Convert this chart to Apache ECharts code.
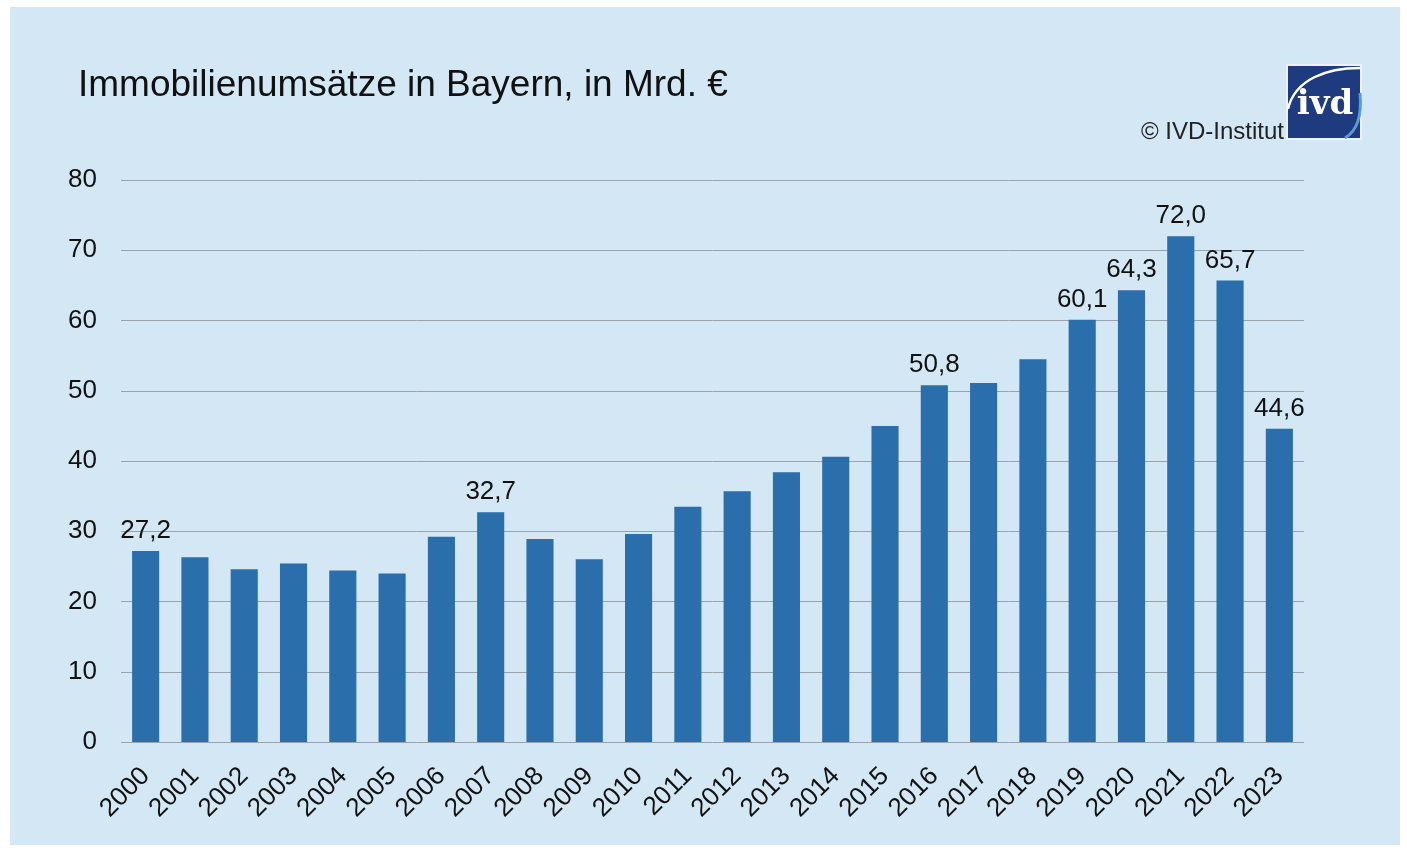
<!DOCTYPE html>
<html>
<head>
<meta charset="utf-8">
<script src="https://cdn.jsdelivr.net/npm/echarts@6/dist/echarts.min.js"></script>
<style>
html,body{margin:0;padding:0;background:#fff;}
#c{width:1407px;height:854px;}
</style>
</head>
<body>
<div id="c"></div>
<script>
const years = ['2000','2001','2002','2003','2004','2005','2006','2007','2008','2009','2010','2011','2012','2013','2014','2015','2016','2017','2018','2019','2020','2021','2022','2023'];
const values = [27.2,26.3,24.6,25.4,24.4,24.0,29.2,32.7,28.9,26.0,29.6,33.5,35.7,38.4,40.6,45.0,50.8,51.1,54.5,60.1,64.3,72.0,65.7,44.6];
const labeledYears = ['2000','2007','2016','2019','2020','2021','2022','2023'];
const yTicks = [0,10,20,30,40,50,60,70,80];
const titleText = 'Immobilienumsätze in Bayern, in Mrd. €';
const sourceText = '© IVD-Institut';

const chart = echarts.init(document.getElementById('c'), null, {renderer:'canvas'});
const font = '"Liberation Sans", Arial, sans-serif';
const data = values.map((v,i)=>({
  value:v,
  label:{show: labeledYears.indexOf(years[i])>=0}
}));
chart.setOption({
  backgroundColor:'#ffffff',
  animation:false,
  graphic:[
    {type:'rect', shape:{x:10,y:7,width:1390,height:838}, style:{fill:'#d3e7f5'}, z:-10},
    {type:'text', left:78, top:67, style:{text:titleText, font:'37px '+font, fill:'#111'}},
    {type:'text', right:1407-1284, top:120, style:{text:sourceText, font:'24px '+font, fill:'#222'}},
    {type:'group', x:1287, y:65, children:[
      {type:'rect', shape:{x:0,y:0,width:74,height:74}, style:{fill:'#1f3b80', stroke:'#eef3fa', lineWidth:2}},
      {type:'bezierCurve', shape:{x1:1,y1:44,x2:73,y2:3,cpx1:8,cpy1:14,cpx2:40,cpy2:3}, style:{stroke:'#ffffff',lineWidth:2.5,fill:null}},
      {type:'bezierCurve', shape:{x1:73,y1:28,x2:58,y2:73,cpx1:75,cpy1:50,cpx2:70,cpy2:66}, style:{stroke:'#5b9ad6',lineWidth:3,fill:null}},
      {type:'text', x:38, y:40, style:{text:'ivd', font:'bold 34px "DejaVu Serif", serif', fill:'#fff', align:'center', verticalAlign:'middle'}}
    ]}
  ],
  grid:{left:121, right:103, top:180, bottom:112, containLabel:false},
  xAxis:{
    type:'category', data:years,
    axisLine:{show:false}, axisTick:{show:false},
    axisLabel:{rotate:45, fontSize:26, color:'#111', fontFamily:font, margin:30, interval:0}
  },
  yAxis:{
    type:'value', min:0, max:80, interval:10,
    axisLine:{show:false}, axisTick:{show:false},
    axisLabel:{fontSize:26, color:'#111', fontFamily:font, margin:24,
      formatter:v=> yTicks.indexOf(v)>=0 ? String(v) : ''},
    splitLine:{show:true, lineStyle:{color:'#9aa3ab', width:1}}
  },
  series:[{
    type:'bar', data:data, barWidth:'55%',
    itemStyle:{color:'#2b6eac'},
    label:{position:'top', distance:7, fontSize:26, color:'#111', fontFamily:font,
      formatter:p=>p.value.toFixed(1).replace('.',',')}
  }]
});
</script>
</body>
</html>
